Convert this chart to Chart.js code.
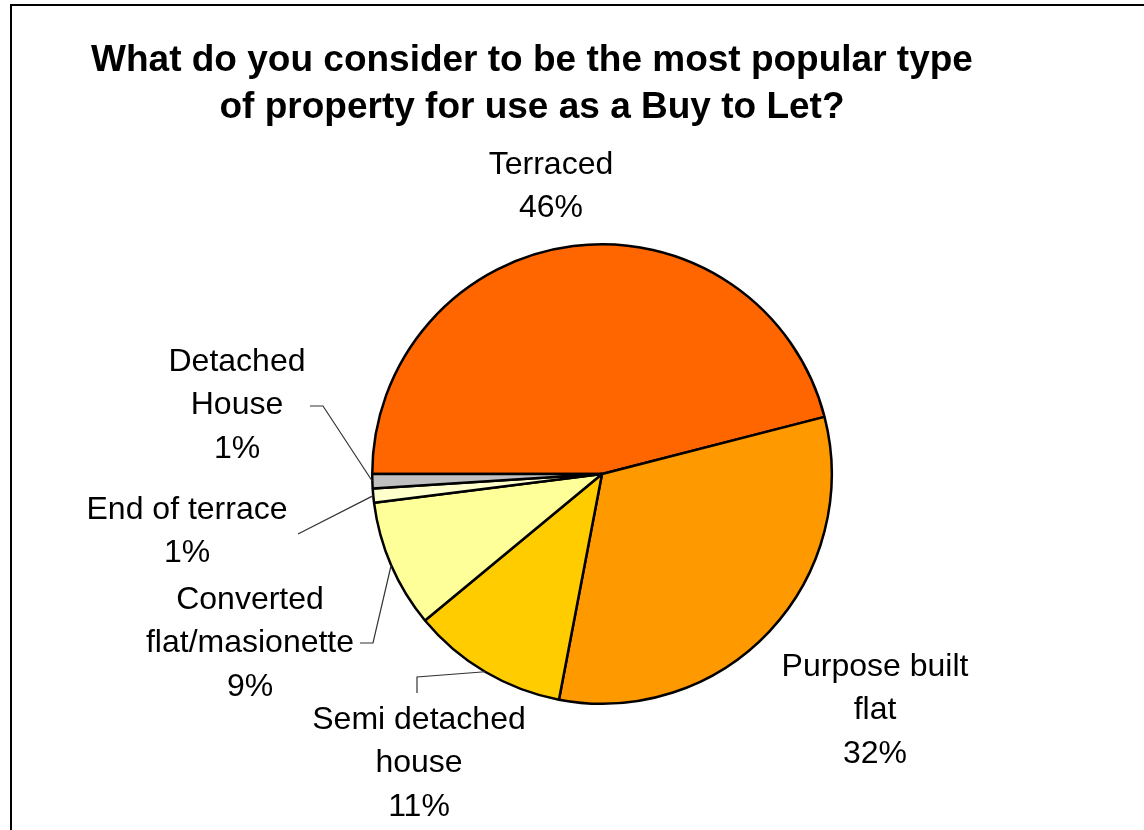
<!DOCTYPE html>
<html>
<head>
<meta charset="utf-8">
<script src="https://cdn.jsdelivr.net/npm/chart.js@4/dist/chart.umd.min.js"></script>
<style>
  html, body { margin:0; padding:0; background:#fff; }
  #wrap { position:relative; width:1144px; height:830px; }
</style>
</head>
<body>
<div id="wrap"><canvas id="pieChart" width="1144" height="830"></canvas></div>
<script>
// Survey answers, % of respondents
const categories = ["Terraced", "Purpose built flat", "Semi detached house", "Converted flat/masionette", "End of terrace", "Detached House"];
const shares = [46, 32, 11, 9, 1, 1];
const labelLines = [["Terraced"], ["Purpose built", "flat"], ["Semi detached", "house"], ["Converted", "flat/masionette"], ["End of terrace"], ["Detached", "House"]];
const colours = ["#FF6600", "#FF9900", "#FFCC00", "#FFFF99", "#FFFFCC", "#C0C0C0"];
const titleLines = ["What do you consider to be the most popular type", "of property for use as a Buy to Let?"];

// where each label block sits, plus the elbow of its leader line (if any)
const labelPlace = [
  { x:551, y:165, elbow:null },
  { x:875, y:667, elbow:null },
  { x:419, y:720, elbow:[[417,693],[417,677]] },
  { x:250, y:600, elbow:[[360,643],[373,643]] },
  { x:187, y:510, elbow:[[298,534]] },
  { x:237, y:362, elbow:[[310,406],[323,406]] }
];

const FONT = '"Liberation Sans", Arial, sans-serif';

const decor = {
  id: "decor",
  beforeDraw(chart){
    const c = chart.ctx;
    c.save();
    // frame (top + left edges only show)
    c.strokeStyle = "#000"; c.lineWidth = 2;
    c.beginPath();
    c.moveTo(11, 830); c.lineTo(11, 5); c.lineTo(1144, 5);
    c.stroke();
    // title
    c.fillStyle = "#000";
    c.font = "bold 37px " + FONT;
    c.textAlign = "center"; c.textBaseline = "middle";
    titleLines.forEach((t, i) => c.fillText(t, 532, 61 + i*47));
    c.restore();
  },
  afterDatasetsDraw(chart){
    const c = chart.ctx;
    const arcs = chart.getDatasetMeta(0).data;
    c.save();
    // leader lines to the middle of each small slice
    c.strokeStyle = "#333"; c.lineWidth = 1.2;
    arcs.forEach((arc, i) => {
      const p = labelPlace[i];
      if (!p.elbow) return;
      const {x, y, outerRadius, startAngle, endAngle} = arc.getProps(["x","y","outerRadius","startAngle","endAngle"], true);
      const mid = (startAngle + endAngle) / 2;
      c.beginPath();
      c.moveTo(p.elbow[0][0], p.elbow[0][1]);
      p.elbow.slice(1).forEach(pt => c.lineTo(pt[0], pt[1]));
      c.lineTo(x + Math.cos(mid)*outerRadius, y + Math.sin(mid)*outerRadius);
      c.stroke();
    });
    // category + percent text
    c.fillStyle = "#000";
    c.font = "32px " + FONT;
    c.textAlign = "center"; c.textBaseline = "middle";
    const lh = 43.5;
    shares.forEach((v, i) => {
      const p = labelPlace[i];
      const lines = labelLines[i].concat([v + "%"]);
      lines.forEach((t, k) => c.fillText(t, p.x, p.y + k*lh));
    });
    c.restore();
  }
};

new Chart(document.getElementById("pieChart"), {
  type: "pie",
  data: {
    labels: categories,
    datasets: [{
      data: shares,
      backgroundColor: colours,
      borderColor: "#000",
      borderWidth: 2.5
    }]
  },
  options: {
    responsive: false,
    animation: false,
    rotation: -90,
    layout: { padding: { left:371, right:311, top:243, bottom:125 } },
    plugins: { legend:{ display:false }, tooltip:{ enabled:false }, title:{ display:false } }
  },
  plugins: [decor]
});
</script>
</body>
</html>
